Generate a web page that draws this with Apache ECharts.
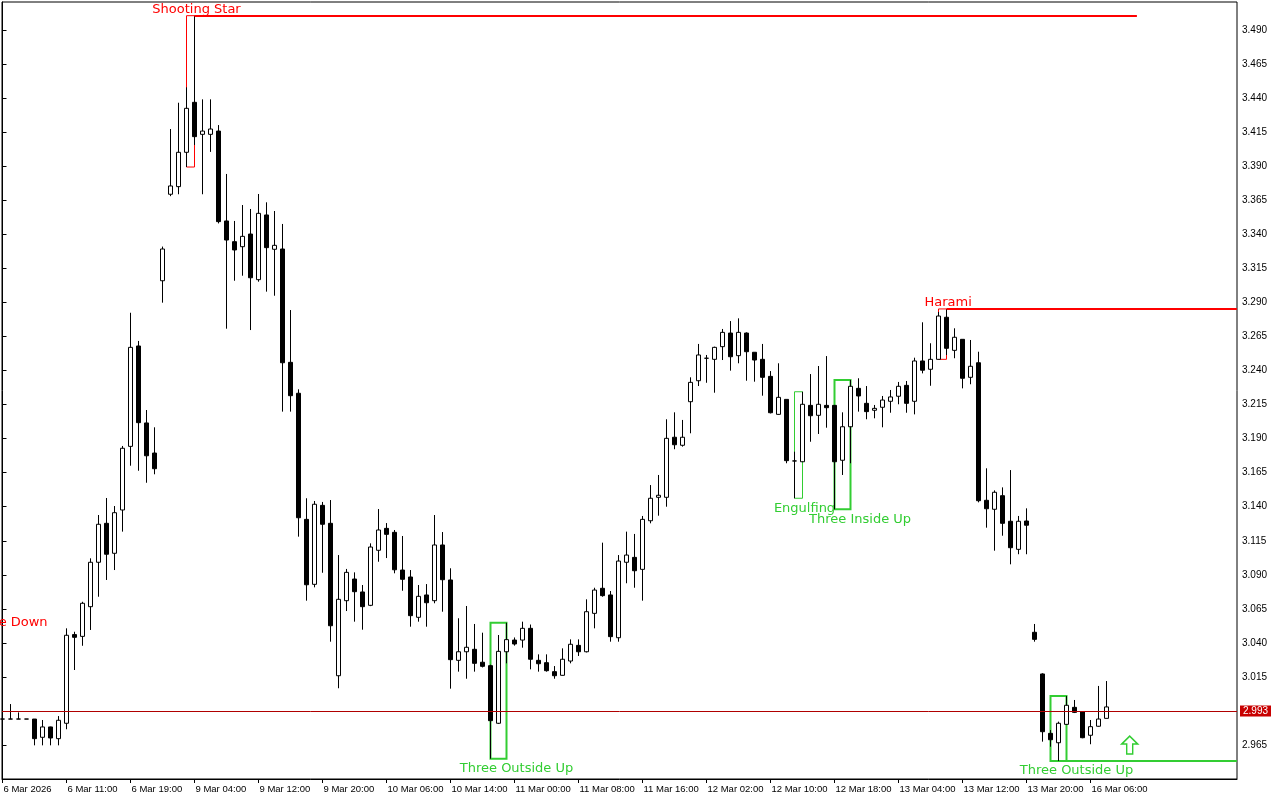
<!DOCTYPE html>
<html><head><meta charset="utf-8">
<script src="https://cdn.jsdelivr.net/npm/echarts@6/dist/echarts.min.js"></script>
<style>html,body{margin:0;padding:0;background:#fff}#c{width:1280px;height:800px}</style>
</head><body><div id="c"></div>
<script>
// ---- data (hourly candles) ----
const opens = [2.9841,2.9841,2.9841,2.9841,2.9841,2.9707,2.9783,2.9697,2.9810,3.0461,
 3.0448,3.0666,3.0992,3.1278,3.1058,3.1376,3.1843,3.2580,3.2015,3.1794,
 3.3059,3.3694,3.3750,3.4002,3.4369,3.4134,3.4134,3.4158,3.3498,3.3346,
 3.3309,3.3402,3.3067,3.3542,3.3290,3.3292,3.2460,3.2233,3.1307,3.0830,
 3.1410,3.1278,3.0159,3.0710,3.0869,3.0774,3.0676,3.1080,3.1241,3.1212,
 3.0935,3.0884,3.0588,3.0752,3.0710,3.1119,3.0862,3.0272,3.0335,3.0353,
 3.0258,3.0233,2.9810,3.0335,3.0421,3.0421,3.0507,3.0272,3.0255,3.0189,
 3.0162,3.0267,3.0382,3.0335,3.0617,3.0801,3.0752,3.0438,3.0992,3.1028,
 3.0940,3.1297,3.1469,3.1469,3.1910,3.1851,3.2171,3.2325,3.2490,3.2482,
 3.2575,3.2675,3.2509,3.2675,3.2534,3.2482,3.2357,3.2078,3.2188,3.1736,
 3.1730,3.2144,3.2071,3.2144,3.2144,3.1741,3.1987,3.2269,3.2159,3.2108,
 3.2130,3.2174,3.2211,3.2291,3.2174,3.2470,3.2409,3.2482,3.2791,3.2548,
 3.2629,3.2350,3.2457,3.1447,3.1381,3.1481,3.1293,3.1087,3.1295,3.0478,
 3.0172,2.9736,2.9667,2.9802,2.9927,2.9893,2.9722,2.9788,2.9846];
const highs = [2.9841,2.9951,2.9890,2.9841,2.9841,2.9834,2.9785,2.9863,3.0507,3.0482,
 3.0702,3.1021,3.1339,3.1464,3.1405,3.1846,3.2824,3.2617,3.2110,3.1983,
 3.3310,3.4173,3.4366,3.4479,3.5005,3.4391,3.4391,3.4202,3.3843,3.3498,
 3.3615,3.3586,3.3696,3.3635,3.3571,3.3476,3.2844,3.2262,3.1462,3.1442,
 3.1435,3.1449,3.1045,3.0943,3.0918,3.0825,3.1131,3.1383,3.1280,3.1229,
 3.1185,3.0935,3.0825,3.0832,3.1339,3.1214,3.0948,3.0581,3.0671,3.0539,
 3.0475,3.0240,3.0458,3.0548,3.0440,3.0556,3.0535,3.0316,3.0316,3.0230,
 3.0360,3.0426,3.0426,3.0720,3.0805,3.1136,3.0781,3.1045,3.1217,3.1200,
 3.1332,3.1559,3.1633,3.2042,3.2093,3.2037,3.2350,3.2595,3.2514,3.2575,
 3.2705,3.2763,3.2783,3.2680,3.2534,3.2595,3.2396,3.2453,3.2188,3.1804,
 3.2244,3.2374,3.2433,3.2506,3.2144,3.2093,3.2330,3.2343,3.2286,3.2147,
 3.2213,3.2257,3.2316,3.2323,3.2494,3.2754,3.2600,3.2830,3.2852,3.2710,
 3.2629,3.2624,3.2538,3.1682,3.1520,3.1542,3.1669,3.1332,3.1388,3.0539,
 3.0177,2.9760,2.9822,3.0010,2.9981,2.9897,2.9834,3.0084,3.0120];
const lows = [2.9841,2.9841,2.9841,2.9841,2.9648,2.9648,2.9648,2.9648,2.9766,3.0201,
 3.0379,3.0495,3.0739,3.0862,3.0935,3.1217,3.1701,3.1664,3.1576,3.1638,
 3.2898,3.3680,3.3694,3.3894,3.4056,3.3694,3.4005,3.3480,3.2707,3.3059,
 3.3096,3.2697,3.3052,3.2979,3.2949,3.2098,3.2098,3.1180,3.0710,3.0808,
 3.0915,3.0409,3.0067,3.0634,3.0556,3.0497,3.0670,3.0996,3.1023,3.0911,
 3.0783,3.0519,3.0556,3.0519,3.0691,3.0629,3.0064,3.0189,3.0137,3.0189,
 3.0220,2.9550,2.9805,3.0250,3.0380,3.0365,3.0206,3.0189,3.0189,3.0137,
 3.0160,3.0250,3.0304,3.0330,3.0507,3.0739,3.0409,3.0409,3.0838,3.0805,
 3.0710,3.1278,3.1334,3.1400,3.1822,3.1841,3.1939,3.2286,3.2310,3.2237,
 3.2477,3.2399,3.2453,3.2325,3.2318,3.2215,3.2085,3.2075,3.1719,3.1462,
 3.1728,3.1877,3.1934,3.1980,3.1381,3.1633,3.1719,3.2098,3.2042,3.2049,
 3.1983,3.2090,3.2152,3.2090,3.2078,3.2379,3.2288,3.2482,3.2514,3.2490,
 3.2269,3.2299,3.1432,3.1246,3.1077,3.1187,3.0977,3.1051,3.1051,3.0409,
 2.9675,2.9638,2.9533,2.9800,2.9885,2.9700,2.9656,2.9785,2.9846];
const closes = [2.9841,2.9841,2.9841,2.9841,2.9697,2.9783,2.9702,2.9832,3.0456,3.0441,
 3.0691,3.0992,3.1271,3.1051,3.1356,3.1829,3.2570,3.2017,3.1774,3.1679,
 3.3292,3.3755,3.4002,3.4325,3.4117,3.4158,3.4173,3.3493,3.3358,3.3285,
 3.3385,3.3081,3.3554,3.3302,3.3319,3.2457,3.2215,3.1319,3.0827,3.1418,
 3.1271,3.0526,3.0720,3.0918,3.0776,3.0666,3.1104,3.1229,3.1197,3.0937,
 3.0867,3.0600,3.0742,3.0695,3.1119,3.0864,3.0277,3.0335,3.0368,3.0250,
 3.0228,2.9829,3.0338,3.0424,3.0392,3.0507,3.0280,3.0247,3.0196,3.0159,
 3.0280,3.0390,3.0335,3.0629,3.0788,3.0747,3.0446,3.1001,3.1045,3.0930,
 3.1307,3.1462,3.1484,3.1902,3.1855,3.1910,3.2313,3.2514,3.2490,3.2570,
 3.2680,3.2501,3.2680,3.2538,3.2477,3.2350,3.2090,3.2203,3.1738,3.1736,
 3.2152,3.2068,3.2152,3.2127,3.1730,3.1987,3.2284,3.2213,3.2098,3.2122,
 3.2183,3.2206,3.2284,3.2159,3.2470,3.2402,3.2482,3.2800,3.2563,3.2644,
 3.2343,3.2431,3.1444,3.1385,3.1506,3.1278,3.1099,3.1293,3.1264,3.0426,
 2.9748,2.9689,2.9810,2.9942,2.9890,2.9704,2.9785,2.9841,2.9930];

// time axis labels (bar index where each label sits)
const timeLabelIndex = [0,8,16,24,32,40,48,56,64,72,80,88,96,104,112,120,128,136];
const timeLabels = ['6 Mar 2026','6 Mar 11:00','6 Mar 19:00','9 Mar 04:00','9 Mar 12:00','9 Mar 20:00',
 '10 Mar 06:00','10 Mar 14:00','11 Mar 00:00','11 Mar 08:00','11 Mar 16:00','12 Mar 02:00',
 '12 Mar 10:00','12 Mar 18:00','13 Mar 04:00','13 Mar 12:00','13 Mar 20:00','16 Mar 06:00'];
const priceTicks = [2.965,2.990,3.015,3.040,3.065,3.090,3.115,3.140,3.165,3.190,3.215,3.240,
 3.265,3.290,3.315,3.340,3.365,3.390,3.415,3.440,3.465,3.490];

// candlestick patterns (bar indices)
const patternNames   = ['Shooting Star','Three Outside Up','Engulfing','Three Inside Up','Harami','Three Outside Up'];
const patternBullish = [false, true, true, true, false, true];
const patternStart   = [23, 61, 99, 104, 117, 131];
const patternEnd     = [24, 63, 100, 106, 118, 133];
const patternLineEnd = [141.8, null, null, null, 154.3, 154.3];
const patternLabelAt = [24.25, 64.25, 100.25, 107.2, 118.2, 134.25];
// pattern partially out of view at the left edge
const offLabelText = 'Three Outside Down';
const offLabelAt = [5.7, 3.0546];
// signal arrow
const arrowAt = [140.9, 2.965];

// ---- chart ----
const RED = '#FF0000', GREEN = '#32CD32';
const N = closes.length;
const candleData = closes.map((c, i) => [i, opens[i], c, lows[i], highs[i]]);
const lastClose = closes[N - 1];
const X_MIN = -0.0625, X_MAX = 154.3125;

const areaData = [], lineData = [], pointData = [];
patternNames.forEach((name, p) => {
  const a = patternStart[p], b = patternEnd[p];
  const hi = Math.max(...highs.slice(a, b + 1));
  const lo = Math.min(...lows.slice(a, b + 1));
  const col = patternBullish[p] ? GREEN : RED;
  const bw = patternBullish[p] ? (name === 'Engulfing' ? 1 : 2) : 1;
  areaData.push([{coord: [a, lo], itemStyle: {color: 'rgba(0,0,0,0)', borderColor: col, borderWidth: bw}}, {coord: [b, hi]}]);
  const level = patternBullish[p] ? lo : hi;
  if (patternLineEnd[p] != null) {
    lineData.push([{coord: [b, level], lineStyle: {color: col, width: 2, type: 'solid'}, label: {show: false}},
                   {coord: [Math.min(patternLineEnd[p], X_MAX), level]}]);
  }
  pointData.push({
    coord: [patternLabelAt[p], level], symbol: 'circle', symbolSize: 1,
    itemStyle: {color: 'rgba(0,0,0,0)'},
    label: {show: true, formatter: name, position: patternBullish[p] ? 'bottom' : 'top', distance: patternBullish[p] ? 3 : -1,
            color: col, fontSize: 13, fontFamily: 'DejaVu Sans'}
  });
});
pointData.push({
  coord: offLabelAt, symbol: 'circle', symbolSize: 1, itemStyle: {color: 'rgba(0,0,0,0)'},
  label: {show: true, formatter: offLabelText, position: 'left', distance: 0, color: RED, fontSize: 13, fontFamily: 'DejaVu Sans'}
});
pointData.push({
  coord: arrowAt, symbol: 'path://M8,0 L16,8 L11,8 L11,18 L5,18 L5,8 L0,8 Z', symbolSize: [16, 18],
  itemStyle: {color: '#fff', borderColor: GREEN, borderWidth: 1.5}, label: {show: false}
});
lineData.push({
  yAxis: lastClose, lineStyle: {color: '#B00000', width: 1, type: 'solid'},
  label: {show: true, position: 'end', formatter: lastClose.toFixed(3), backgroundColor: '#C80000', color: '#fff',
          padding: [1, 3, 0, 3], fontSize: 10, fontFamily: 'Liberation Sans', distance: 3}
});

const chart = echarts.init(document.getElementById('c'), null, {renderer: 'canvas'});
chart.setOption({
  animation: false,
  backgroundColor: '#fff',
  grid: {left: 2, top: 2, right: 43, bottom: 21, show: true, borderColor: '#000', borderWidth: 1, backgroundColor: '#fff'},
  xAxis: {
    type: 'value', min: X_MIN, max: X_MAX,
    axisLine: {show: true, lineStyle: {color: '#000'}},
    axisTick: {show: true, customValues: timeLabelIndex, length: 4, lineStyle: {color: '#000'}},
    axisLabel: {customValues: timeLabelIndex, formatter: v => timeLabels[timeLabelIndex.indexOf(Math.round(v))] || '',
                align: 'left', margin: 5, fontSize: 9.5, color: '#000', fontFamily: 'Liberation Sans', padding: [0, 0, 0, 1]},
    splitLine: {show: false}
  },
  yAxis: {
    type: 'value', position: 'right', min: 2.94008, max: 3.51056, scale: true,
    axisLine: {show: true, lineStyle: {color: '#000'}},
    axisTick: {show: true, customValues: priceTicks, length: 4, lineStyle: {color: '#000'}},
    axisLabel: {customValues: priceTicks, formatter: v => v.toFixed(3), margin: 5, fontSize: 10, color: '#000', fontFamily: 'Liberation Sans'},
    splitLine: {show: false}
  },
  series: [{
    type: 'candlestick',
    data: candleData,
    encode: {x: 0, y: [1, 2, 3, 4]},
    barWidth: 4,
    itemStyle: {color: '#fff', color0: '#000', borderColor: '#000', borderColor0: '#000', borderColorDoji: '#000', borderWidth: 1},
    markArea: {silent: true, data: areaData},
    markLine: {silent: true, symbol: 'none', label: {show: false}, data: lineData},
    markPoint: {silent: true, data: pointData}
  }]
});
</script></body></html>
